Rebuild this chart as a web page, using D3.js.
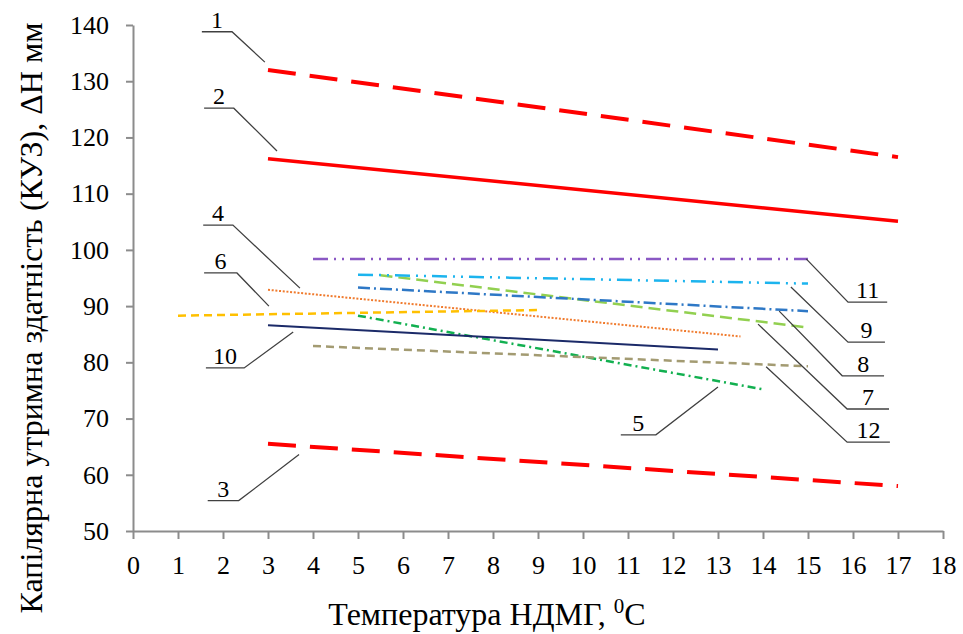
<!DOCTYPE html>
<html>
<head>
<meta charset="utf-8">
<script src="https://cdn.jsdelivr.net/npm/d3@7/dist/d3.min.js"></script>
<style>
  html, body { margin: 0; padding: 0; background: #fff; }
  svg { display: block; }
</style>
</head>
<body>
<svg id="chart" width="963" height="634"></svg>
<script>
// ---- data ----
const curveIds = ["1","2","3","4","5","6","7","8","9","10","11","12"];
const xStart   = [3,    3,     3,    3,    5,    1,    5.5,  5,    5,    3,    4,    4];
const xEnd     = [17,   17,    17,   13.5, 14,   9,    15,   15,   15,   13,   15,   15];
const yStart   = [132,  116.2, 65.5, 92.9, 88.3, 88.3, 95.5, 93.3, 95.6, 86.6, 98.4, 82.9];
const yEnd     = [116.5,105.1, 58.0, 84.6, 75.2, 89.3, 86.2, 89.1, 94.0, 82.3, 98.4, 79.3];

const xTicks = d3.range(0, 19, 1);
const yTicks = d3.range(50, 141, 10);

// callout annotations (data coordinates): anchor point, elbow, end of underline
const noteIds   = ["1","2","4","6","10","3","5","11","9","8","7","12"];
const noteAx    = [2.93, 3.2, 3.71, 3.02, 3.56, 3.69, 13.0, 14.96, 14.62, 14.36, 13.89, 14.07];
const noteAy    = [133.4,117.6,93.2, 90.0, 85.4, 63.6, 75.6, 98.4, 93.4, 89.1, 86.8, 79.2];
const noteEx    = [2.20, 2.24, 2.22, 2.31, 2.47, 2.35, 11.62,15.89,15.89,15.76,15.87,15.87];
const noteEy    = [138.8,125.2,104.4,95.9, 79.0, 55.4, 67.1, 90.7, 83.6, 77.6, 71.7, 65.8];
const noteUx    = [1.53, 1.58, 1.56, 1.58, 1.62, 1.66, 10.84,16.76,16.71,16.69,16.80,16.82];

// ---- styles ----
const FONT = "'Liberation Serif', 'Times New Roman', serif";
const colors = ["#FF0000","#FF0000","#FF0000","#F07B2E","#12B050","#FFC000","#92D050","#2E78C6","#1CB4EE","#1B2A68","#8A58C4","#A39B72"];
const widths = [4, 3.5, 4, 2, 2.5, 2.5, 2.5, 2.5, 2.5, 2, 2.5, 2.5];
const dashes = ["28,14", null, "28,14", "2,1.7", "8,4,2,4", "8,5", "12,6", "12,4,2,4", "15,6,2,6,2,6", null, "15,6,2,6,2,6", "8,5"];

// ---- layout ----
const svg = d3.select("#chart");
const x = d3.scaleLinear().domain([0, 18]).range([133, 943]);
const y = d3.scaleLinear().domain([50, 140]).range([531, 25]);
const axisColor = "#8C8C8C";

// axes
const gx = svg.append("g").attr("transform", `translate(0,${y(50)})`)
  .call(d3.axisBottom(x).tickValues(xTicks).tickFormat(d3.format("d")).tickSize(8).tickPadding(17).tickSizeOuter(0));
const gy = svg.append("g").attr("transform", `translate(${x(0)},0)`)
  .call(d3.axisLeft(y).tickValues(yTicks).tickFormat(d3.format("d")).tickSize(7).tickPadding(17).tickSizeOuter(0));
[gx, gy].forEach(g => {
  g.attr("font-family", FONT).attr("font-size", 26);
  g.select(".domain").attr("stroke", axisColor).attr("stroke-width", 2);
  g.selectAll(".tick line").attr("stroke", axisColor).attr("stroke-width", 2);
  g.selectAll(".tick text").attr("fill", "#000").attr("font-family", FONT).attr("font-size", 26);
});

// lines
const lineGen = d3.line().x(d => x(d[0])).y(d => y(d[1]));
curveIds.forEach((id, i) => {
  svg.append("path")
    .datum([[xStart[i], yStart[i]], [xEnd[i], yEnd[i]]])
    .attr("d", lineGen)
    .attr("fill", "none")
    .attr("stroke", colors[i])
    .attr("stroke-width", widths[i])
    .attr("stroke-dasharray", dashes[i])
    .attr("stroke-linecap", "butt");
});

// callouts
noteIds.forEach((id, i) => {
  const pts = [[noteAx[i], noteAy[i]], [noteEx[i], noteEy[i]], [noteUx[i], noteEy[i]]];
  svg.append("path").datum(pts).attr("d", lineGen)
    .attr("fill", "none").attr("stroke", "#404040").attr("stroke-width", 1.3);
  svg.append("text")
    .attr("x", (x(noteEx[i]) + x(noteUx[i])) / 2)
    .attr("y", y(noteEy[i]) - 4)
    .attr("text-anchor", "middle")
    .attr("font-family", FONT)
    .attr("font-size", 24)
    .text(id);
});

// axis titles
const xt = svg.append("text")
  .attr("x", 487).attr("y", 625)
  .attr("text-anchor", "middle")
  .attr("font-family", FONT)
  .attr("font-size", 32);
xt.append("tspan").text("Температура НДМГ, ");
xt.append("tspan").attr("dy", -12).attr("font-size", 21).text("0");
xt.append("tspan").attr("dy", 12).text("C");

svg.append("text")
  .attr("transform", "translate(42,318) rotate(-90)")
  .attr("text-anchor", "middle")
  .attr("font-family", FONT)
  .attr("font-size", 32)
  .text("Капілярна утримна здатність (КУЗ), ΔН мм");
</script>
</body>
</html>
